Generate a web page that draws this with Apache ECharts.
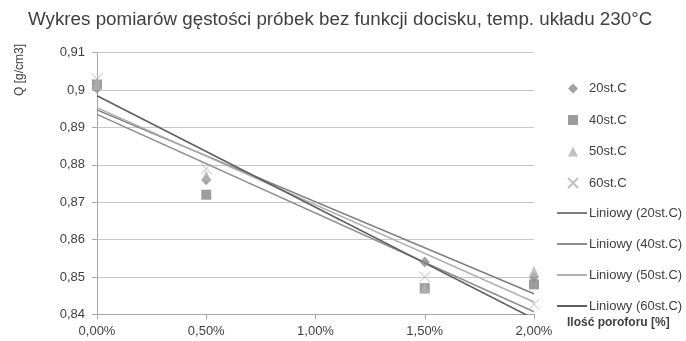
<!DOCTYPE html>
<html>
<head>
<meta charset="utf-8">
<script src="https://cdn.jsdelivr.net/npm/echarts@6/dist/echarts.min.js"></script>
<style>
html,body{margin:0;padding:0;background:#fff;}
#chart{width:686px;height:341px;}
</style>
</head>
<body>
<div id="chart"></div>
<script>
// ---- data ----
var xValues = [0, 0.5, 1.5, 2.0];               // Ilość poroforu [%]
var s20 = [0.9005, 0.876, 0.854, 0.850];
var s40 = [0.9015, 0.872, 0.847, 0.848];
var s50 = [0.9015, 0.877, 0.847, 0.8515];
var s60 = [0.903, 0.879, 0.850, 0.8427];
var seriesNames = ['20st.C', '40st.C', '50st.C', '60st.C'];
var trendNames = ['Liniowy (20st.C)', 'Liniowy (40st.C)', 'Liniowy (50st.C)', 'Liniowy (60st.C)'];
// trendline values at x = 0% and x = 2%
var trendX = [0, 2.0];
var trend20 = [0.8947, 0.8455];
var trend40 = [0.8935, 0.8407];
var trend50 = [0.8953, 0.8433];
var trend60 = [0.8985, 0.8388];
var xTicks = [0, 0.5, 1.0, 1.5, 2.0];
var yTicks = [0.84, 0.85, 0.86, 0.87, 0.88, 0.89, 0.9, 0.91];

function pairs(xs, ys) { return xs.map(function (x, i) { return [x, ys[i]]; }); }

var crossPath = 'path://M0,0L10,10M10,0L0,10';
var markerSpecs = [
  { data: s20, symbol: 'diamond', size: [10, 11], style: { color: '#8a8a8a' } },
  { data: s40, symbol: 'rect', size: 10, style: { color: '#858585' } },
  { data: s50, symbol: 'triangle', size: [10, 11], style: { color: '#b3b3b3' } },
  { data: s60, symbol: crossPath, size: 11, style: { color: 'rgba(0,0,0,0)', borderColor: '#b0b0b0', borderWidth: 1 } }
];
var trendSpecs = [
  { data: trend20, color: '#7e7e7e' },
  { data: trend40, color: '#8e8e8e' },
  { data: trend50, color: '#b0b0b0' },
  { data: trend60, color: '#5e5e5e' }
];

var series = [];
markerSpecs.forEach(function (m, i) {
  series.push({
    name: seriesNames[i],
    type: 'scatter',
    data: pairs(xValues, m.data),
    symbol: m.symbol,
    symbolSize: m.size,
    itemStyle: m.style,
    z: 3
  });
});
trendSpecs.forEach(function (t, i) {
  series.push({
    name: trendNames[i],
    type: 'line',
    data: pairs(trendX, t.data),
    symbol: 'none',
    showSymbol: false,
    clip: true,
    lineStyle: { color: t.color, width: 1.6 },
    itemStyle: { color: t.color },
    z: 2
  });
});

var font = 'Liberation Sans, Arial, sans-serif';
var legendText = { fontFamily: font, fontSize: 13, lineHeight: 13, color: '#404040' };
var chart = echarts.init(document.getElementById('chart'), null, { renderer: 'canvas' });
chart.setOption({
  backgroundColor: '#ffffff',
  animation: false,
  title: {
    text: 'Wykres pomiarów gęstości próbek bez funkcji docisku, temp. układu 230°C',
    left: 28, top: 10, padding: 0,
    textStyle: { fontFamily: font, fontSize: 18.8, fontWeight: 'normal', color: '#404040' }
  },
  grid: { left: 97, right: 152, top: 52.7, bottom: 26.7, containLabel: false },
  legend: [{
    orient: 'vertical',
    left: 567, top: 82, padding: 0,
    itemWidth: 10, itemHeight: 10, itemGap: 18.5,
    textStyle: Object.assign({ padding: [0, 0, 0, 6] }, legendText),
    data: seriesNames
  }, {
    orient: 'vertical',
    left: 557, top: 206.5, padding: 0,
    itemWidth: 30, itemHeight: 2, itemGap: 18,
    textStyle: Object.assign({ padding: [0, 0, 0, -3] }, legendText),
    data: trendNames.map(function (n) { return { name: n, icon: 'rect' }; })
  }],
  xAxis: {
    type: 'value',
    min: 0, max: 2, interval: 0.5,
    name: 'Ilość poroforu [%]',
    nameLocation: 'end', nameGap: 33,
    nameTextStyle: { fontFamily: font, fontSize: 12, fontWeight: 'bold', color: '#404040', verticalAlign: 'top', padding: [2, 0, 0, 0] },
    axisLine: { show: true, lineStyle: { color: '#a8a8a8', width: 1 } },
    axisTick: { show: true, length: 5, lineStyle: { color: '#a8a8a8' } },
    axisLabel: {
      margin: 11, fontFamily: font, fontSize: 13, color: '#404040',
      formatter: function (v) { return v.toFixed(2).replace('.', ',') + '%'; }
    },
    splitLine: { show: false }
  },
  yAxis: {
    type: 'value',
    min: 0.84, max: 0.91, interval: 0.01,
    axisLine: { show: true, lineStyle: { color: '#a8a8a8', width: 1 } },
    axisTick: { show: true, length: 5, lineStyle: { color: '#a8a8a8' } },
    axisLabel: {
      margin: 12, fontFamily: font, fontSize: 13, color: '#404040',
      formatter: function (v) { return String(Math.round(v * 100) / 100).replace('.', ','); }
    },
    splitLine: { show: true, lineStyle: { color: '#c8c8c8', width: 1 } }
  },
  graphic: [{
    type: 'text',
    x: 20, y: 70,
    rotation: Math.PI / 2,
    style: {
      text: 'Q [g/cm3]',
      font: '12px ' + font,
      fill: '#404040',
      align: 'center',
      verticalAlign: 'middle'
    }
  }],
  series: series
});
</script>
</body>
</html>
